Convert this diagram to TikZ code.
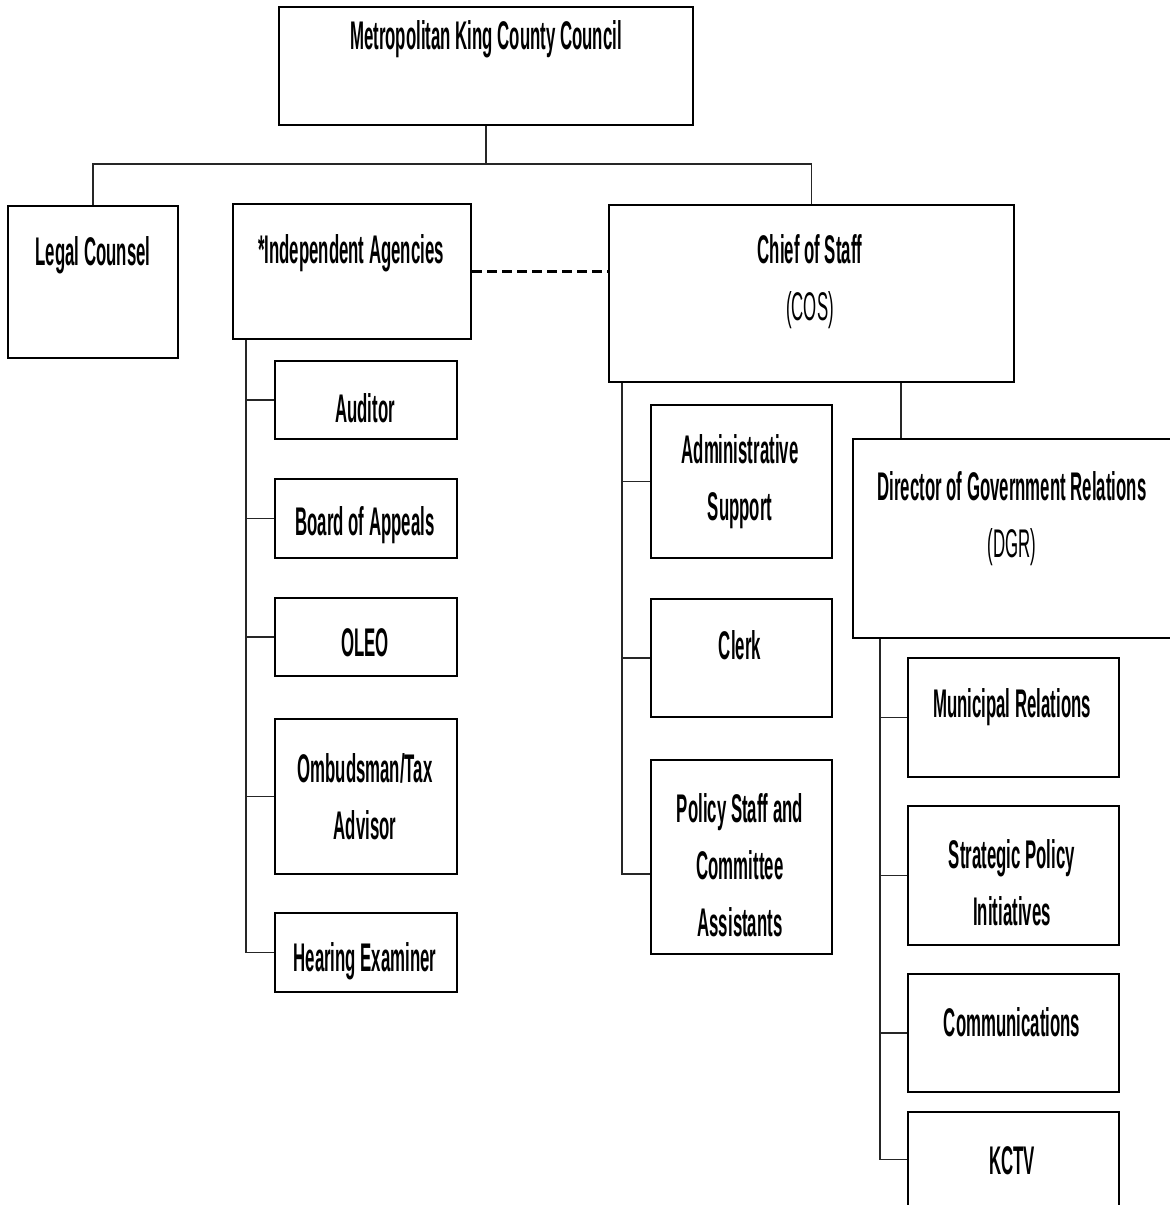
\documentclass[tikz,border=0pt]{standalone}
\usepackage{fontspec}
\newfontfamily\orgfont{Liberation Sans}[FakeStretch=0.42]
\usepackage{tikz}

\tikzset{
  box/.style = {draw, line width=1pt, inner sep=0pt, anchor=north west},
  boxsize/.style 2 args = {minimum width=#1*0.5pt, minimum height=#2*0.5pt},
  lbl/.style = {align=center, inner sep=0pt, font=\orgfont\bfseries\fontsize{20}{28.5}\selectfont},
  link/.style = {line width=0.6pt, black!85},
}

\begin{document}
\begin{tikzpicture}[x=0.5pt, y=-0.5pt]
\useasboundingbox (0,0) rectangle (1170,1205);

\node[box, boxsize={414}{118}] (council) at (278,6) {};
\node[box, boxsize={170}{152}] (legal) at (7,205) {};
\node[box, boxsize={238}{135}] (ia) at (232,203) {};
\node[box, boxsize={405}{177}] (cos) at (608,204) {};
\node[box, boxsize={320}{199}] (dgr) at (852,438) {};

\node[box, boxsize={182}{78}] (aud) at (274,360) {};
\node[box, boxsize={182}{79}] (board) at (274,478) {};
\node[box, boxsize={182}{78}] (oleo) at (274,597) {};
\node[box, boxsize={182}{155}] (omb) at (274,718) {};
\node[box, boxsize={182}{79}] (hear) at (274,912) {};

\node[box, boxsize={181}{153}] (adm) at (650,404) {};
\node[box, boxsize={181}{118}] (clerk) at (650,598) {};
\node[box, boxsize={181}{194}] (pol) at (650,759) {};

\node[box, boxsize={211}{119}] (mun) at (907,657) {};
\node[box, boxsize={211}{139}] (strat) at (907,805) {};
\node[box, boxsize={211}{118}] (comm) at (907,973) {};
\node[box, boxsize={211}{95}] (kctv) at (907,1111) {};

\node[lbl] (councilT) at (486,39) {Metropolitan King County Council};
\node[lbl] (legalT) at (93,255) {Legal Counsel};
\node[lbl] (iaT) at (351,253) {*Independent Agencies};
\node[lbl] (cosT) at (810,282) {Chief of Staff\\{\mdseries (COS)}};
\node[lbl] (dgrT) at (1012,519) {Director of Government Relations\\{\mdseries (DGR)}};

\node[lbl] (audT) at (365,408) {Auditor};
\node[lbl] (boardT) at (365,525) {Board of Appeals};
\node[lbl] (oleoT) at (365,643) {OLEO};
\node[lbl] (ombT) at (365,797) {Ombudsman/Tax\\Advisor};
\node[lbl] (hearT) at (365,961) {Hearing Examiner};

\node[lbl] (admT) at (740,482) {Administrative\\Support};
\node[lbl] (clerkT) at (740,645) {Clerk};
\node[lbl] (polT) at (740,865) {Policy Staff and\\Committee\\Assistants};

\node[lbl] (munT) at (1012,707) {Municipal Relations};
\node[lbl] (stratT) at (1012,883) {Strategic Policy\\Initiatives};
\node[lbl] (commT) at (1012,1022) {Communications};
\node[lbl] (kctvT) at (1012,1161) {KCTV};

\draw[link] (council.south) -- ++(0,38) coordinate (bus);
\draw[link] (bus) -| (legal.north);
\draw[link] (bus) -| (cos.north);

\draw[line width=1.2pt, dash pattern=on 5pt off 2.5pt] (ia.east) -- (ia.east -| cos.west);

\coordinate (iaspine) at ([xshift=7pt]ia.south west);
\draw[link] (iaspine) |- (hear.west);
\foreach \n in {aud, board, oleo, omb}
  \draw[link] (\n.west) -- (\n.west -| iaspine);

\coordinate (cosspine) at ([xshift=7pt]cos.south west);
\draw[link] (cosspine) |- ([yshift=-8.5pt]pol.west);
\foreach \n in {adm, clerk}
  \draw[link] (\n.west) -- (\n.west -| cosspine);

\coordinate (dgrtop) at ([xshift=24.5pt]dgr.north west);
\draw[link] (dgrtop) -- (dgrtop |- cos.south);

\coordinate (dgrspine) at ([xshift=14pt]dgr.south west);
\draw[link] (dgrspine) |- (kctv.west);
\foreach \n in {mun, strat, comm}
  \draw[link] (\n.west) -- (\n.west -| dgrspine);

\end{tikzpicture}
\end{document}
